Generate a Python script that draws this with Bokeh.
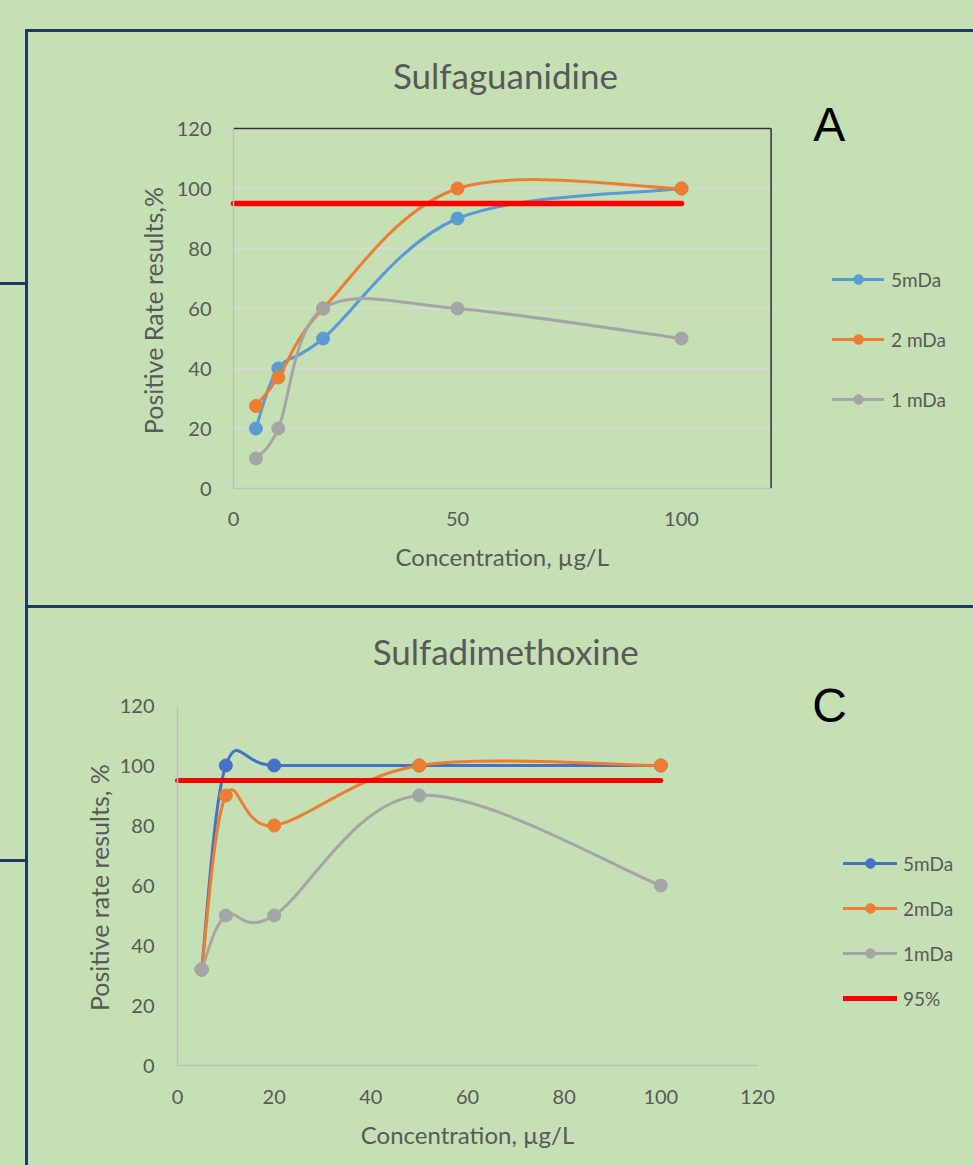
import numpy as np
from bokeh.plotting import figure
from bokeh.models import (Legend, LegendItem, Label, Range1d, Spacer, GlobalInlineStyleSheet)
from bokeh.layouts import row, column
from bokeh.embed import file_html
from bokeh.resources import INLINE

# ---------------- data ----------------
conc = [5, 10, 20, 50, 100]

a_title = "Sulfaguanidine"
a_5mda = [20, 40, 50, 90, 100]
a_2mda = [27.5, 37, 60, 100, 100]
a_1mda = [10, 20, 60, 60, 50]
a_labels = ["5mDa", "2 mDa", "1 mDa"]
a_ylabel = "Positive Rate results,%"

c_title = "Sulfadimethoxine"
c_5mda = [32, 100, 100, 100, 100]
c_2mda = [32, 90, 80, 100, 100]
c_1mda = [32, 50, 50, 90, 60]
c_labels = ["5mDa", "2mDa", "1mDa", "95%"]
c_ylabel = "Positive rate results, %"

xlabel = "Concentration, µg/L"
ref_x = [0, 100]
ref_y = [95, 95]

x_axis_max = 120
y_axis_max = 120
a_xticks = [0, 50, 100]
c_xticks = [0, 20, 40, 60, 80, 100, 120]
yticks = [0, 20, 40, 60, 80, 100, 120]

# ---------------- style ----------------
BG = "#C5E0B4"
DARK = "#1F3864"
TEXT = "#595959"
AXIS = "#BFBFBF"
GRID = "#D9D9D9"
FRAME = "#303030"
BLUE_A = "#5B9BD5"
BLUE_C = "#4472C4"
ORANGE = "#ED7D31"
GRAY = "#A5A5A5"
RED = "#FF0000"
FONT = "Lato"


def smooth_segments(xs, ys):
    """Cubic Bezier control points (Catmull-Rom style, like spreadsheet smoothing)."""
    x = np.asarray(xs, float)
    y = np.asarray(ys, float)
    xp = np.concatenate([[x[0]], x, [x[-1]]])
    yp = np.concatenate([[y[0]], y, [y[-1]]])
    d = dict(x0=[], y0=[], x1=[], y1=[], cx0=[], cy0=[], cx1=[], cy1=[])
    for i in range(len(x) - 1):
        d["x0"].append(xp[i + 1]); d["y0"].append(yp[i + 1])
        d["x1"].append(xp[i + 2]); d["y1"].append(yp[i + 2])
        d["cx0"].append(xp[i + 1] + (xp[i + 2] - xp[i]) / 6.0)
        d["cy0"].append(yp[i + 1] + (yp[i + 2] - yp[i]) / 6.0)
        d["cx1"].append(xp[i + 2] - (xp[i + 3] - xp[i + 1]) / 6.0)
        d["cy1"].append(yp[i + 2] - (yp[i + 3] - yp[i + 1]) / 6.0)
    return d


def make_fig(w, h, left, bottom, px_x, px_y, xticks, ystand, xstand):
    """Frame covers the whole canvas; the axes sit at data 0 (fixed_location)."""
    p = figure(width=w, height=h,
               x_range=Range1d(-left / px_x, (w - left) / px_x),
               y_range=Range1d(-bottom / px_y, (h - bottom) / px_y),
               output_backend="svg", toolbar_location=None, tools="",
               min_border_left=0, min_border_right=0,
               min_border_top=0, min_border_bottom=0,
               background_fill_color=BG, border_fill_color=BG,
               outline_line_color=None)
    p.xaxis.ticker = xticks
    p.yaxis.ticker = yticks
    p.xaxis.bounds = (0, x_axis_max)
    p.yaxis.bounds = (0, y_axis_max)
    p.xaxis.fixed_location = 0
    p.yaxis.fixed_location = 0
    for ax in (p.xaxis[0], p.yaxis[0]):
        ax.axis_line_color = AXIS
        ax.axis_line_width = 1.5
        ax.major_tick_line_color = None
        ax.minor_tick_line_color = None
        ax.major_tick_out = 0
        ax.major_tick_in = 0
        ax.major_label_text_font = FONT
        ax.major_label_text_font_size = "20px"
        ax.major_label_text_color = TEXT
    p.yaxis[0].major_label_standoff = ystand
    p.xaxis[0].major_label_standoff = xstand
    p.xgrid.visible = False
    p.ygrid.visible = False
    return p


def text(p, x, y, s, size, font=FONT, color=TEXT, angle=0.0):
    p.add_layout(Label(x=x, y=y, text=s, text_align="center", text_baseline="alphabetic",
                       text_font=font, text_font_size=size, text_color=color, angle=angle))


def add_series(p, ys, color):
    seg = smooth_segments(conc, ys)
    r1 = p.bezier(x0="x0", y0="y0", x1="x1", y1="y1", cx0="cx0", cy0="cy0",
                  cx1="cx1", cy1="cy1", source=seg, line_color=color, line_width=3,
                  line_cap="round")
    r2 = p.scatter(conc, ys, size=13, marker="circle", fill_color=color, line_color=color)
    return [r1, r2]


def make_legend(items, loc, glyph_w, standoff, spacing):
    return Legend(items=items, location=loc, glyph_width=glyph_w, glyph_height=24,
                  label_height=24, label_standoff=standoff, spacing=spacing,
                  padding=0, margin=0, border_line_color=None, background_fill_alpha=0,
                  label_text_font=FONT, label_text_font_size="19px", label_text_color=TEXT)


# ---------------- chart A ----------------
pa = make_fig(945, 573, 205, 117, 4.48, 3.0, a_xticks, 22, 23)
grid_y = yticks[1:]
pa.segment(x0=[0] * len(grid_y), x1=[x_axis_max] * len(grid_y), y0=grid_y, y1=grid_y,
           line_color=GRID, line_width=1.5)
pa.segment(x0=[0, x_axis_max], y0=[y_axis_max, 0], x1=[x_axis_max, x_axis_max],
           y1=[y_axis_max, y_axis_max], line_color=FRAME, line_width=1.5)

ra = [add_series(pa, ys, c) for ys, c in zip([a_5mda, a_2mda, a_1mda], [BLUE_A, ORANGE, GRAY])]
pa.line(ref_x, ref_y, line_color=RED, line_width=5.5, line_cap="round")

pa.add_layout(make_legend([LegendItem(label=l, renderers=r) for l, r in zip(a_labels, ra)],
                          (804, 194), 52, 7, 36))
text(pa, 60.7, 138.0, a_title, "35px")
text(pa, 133.0, 121.3, "A", "48px", font="Liberation Sans", color="#000000")
text(pa, 60.0, -22.7, xlabel, "24px")
text(pa, -17.9, 59.3, a_ylabel, "25px", angle=np.pi / 2)

# ---------------- chart C ----------------
pc = make_fig(945, 557, 149, 100, 580 / 120, 3.0, c_xticks, 23, 24)
rc = [add_series(pc, ys, c) for ys, c in zip([c_5mda, c_2mda, c_1mda], [BLUE_C, ORANGE, GRAY])]
r95 = pc.line(ref_x, ref_y, line_color=RED, line_width=5, line_cap="round")
rc.append([r95])

pc.add_layout(make_legend([LegendItem(label=l, renderers=r) for l, r in zip(c_labels, rc)],
                          (815, 155), 54, 6, 21))
text(pc, 67.9, 138.3, c_title, "35px")
text(pc, 134.9, 120.0, "C", "48px", font="Liberation Sans", color="#000000")
text(pc, 60.0, -23.0, xlabel, "24px")
text(pc, -16.3, 59.3, c_ylabel, "25px", angle=np.pi / 2)


# ---------------- page frame ----------------
def bar(w, h, color=None):
    if color:
        return Spacer(width=w, height=h, styles={"background-color": color})
    return Spacer(width=w, height=h)


css = GlobalInlineStyleSheet(css=(
    "html, body {margin:0; padding:0; background:#C5E0B4; overflow:hidden;}"
    "body {display:flex; flex-direction:column; align-items:flex-start;}"))

top = row(column(bar(25, 282), bar(25, 3, DARK), bar(25, 320)),
          column(bar(3, 29), bar(3, 576, DARK)),
          column(bar(945, 29), bar(945, 3, DARK), pa),
          stylesheets=[css])
bottom = row(column(bar(25, 254), bar(25, 3, DARK), bar(25, 303)),
             column(bar(3, 560, DARK)),
             column(bar(945, 3, DARK), pc))

with open("out.html", "w", encoding="utf-8") as f:
    f.write(file_html([top, bottom], INLINE, title="Positive rate results"))
